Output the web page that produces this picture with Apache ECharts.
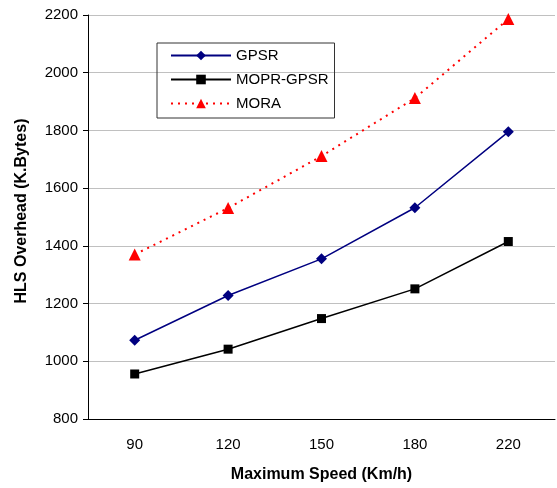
<!DOCTYPE html>
<html>
<head>
<meta charset="utf-8">
<script src="https://cdn.jsdelivr.net/npm/echarts@6/dist/echarts.min.js"></script>
<style>
  html, body { margin: 0; padding: 0; background: #fff; }
  #main { width: 557px; height: 488px; }
</style>
</head>
<body>
<div id="main"></div>
<script>
// values
var speeds = ['90', '120', '150', '180', '220'];
var gpsr = [1073, 1228, 1355, 1532, 1795];
var moprGpsr = [956, 1042, 1148, 1251, 1415];
var mora = [1370, 1531, 1711, 1912, 2186];

var myChart = echarts.init(document.getElementById('main'));
var font = 'Liberation Sans, Arial, sans-serif';

myChart.setOption({
  animation: false,
  textStyle: { fontFamily: font },
  grid: { left: 88, right: 2, top: 15, bottom: 67 },
  legend: {
    orient: 'vertical',
    left: 157,
    top: 43,
    padding: [5, 6, 7, 13],
    itemGap: 9,
    itemWidth: 60,
    itemHeight: 12,
    borderColor: '#333',
    borderWidth: 1,
    textStyle: { fontSize: 15, color: '#000', fontFamily: font },
    data: ['GPSR', 'MOPR-GPSR', 'MORA']
  },
  xAxis: {
    type: 'category',
    data: speeds,
    boundaryGap: true,
    name: 'Maximum Speed (Km/h)',
    nameLocation: 'middle',
    nameGap: 48,
    nameTextStyle: { fontSize: 16, fontWeight: 'bold', color: '#000' },
    axisLine: { lineStyle: { color: '#000', width: 1 } },
    axisTick: { length: 5, lineStyle: { color: '#000' } },
    axisLabel: { fontSize: 15, color: '#000', margin: 18 },
    splitLine: { show: false }
  },
  yAxis: {
    type: 'value',
    min: 800,
    max: 2200,
    interval: 200,
    name: 'HLS Overhead (K.Bytes)',
    nameLocation: 'middle',
    nameGap: 58,
    nameTextStyle: { fontSize: 16, fontWeight: 'bold', color: '#000', padding: [0, 0, 0, 12] },
    axisLine: { show: true, lineStyle: { color: '#000', width: 1 } },
    axisTick: { show: true, length: 5, lineStyle: { color: '#000' } },
    axisLabel: { fontSize: 15, color: '#000', margin: 10, formatter: function (v) { return String(v); } },
    splitLine: { lineStyle: { color: '#c0c0c0', width: 1 } }
  },
  series: [
    {
      name: 'GPSR',
      type: 'line',
      data: gpsr,
      symbol: 'diamond',
      symbolSize: 11,
      itemStyle: { color: '#000080' },
      lineStyle: { color: '#000080', width: 1.5 }
    },
    {
      name: 'MOPR-GPSR',
      type: 'line',
      data: moprGpsr,
      symbol: 'rect',
      symbolSize: 9,
      itemStyle: { color: '#000' },
      lineStyle: { color: '#000', width: 1.5 }
    },
    {
      name: 'MORA',
      type: 'line',
      data: mora,
      symbol: 'triangle',
      symbolSize: 12,
      itemStyle: { color: '#ff0000' },
      lineStyle: { color: '#ff0000', width: 2, type: [2, 5] }
    }
  ]
});
</script>
</body>
</html>
